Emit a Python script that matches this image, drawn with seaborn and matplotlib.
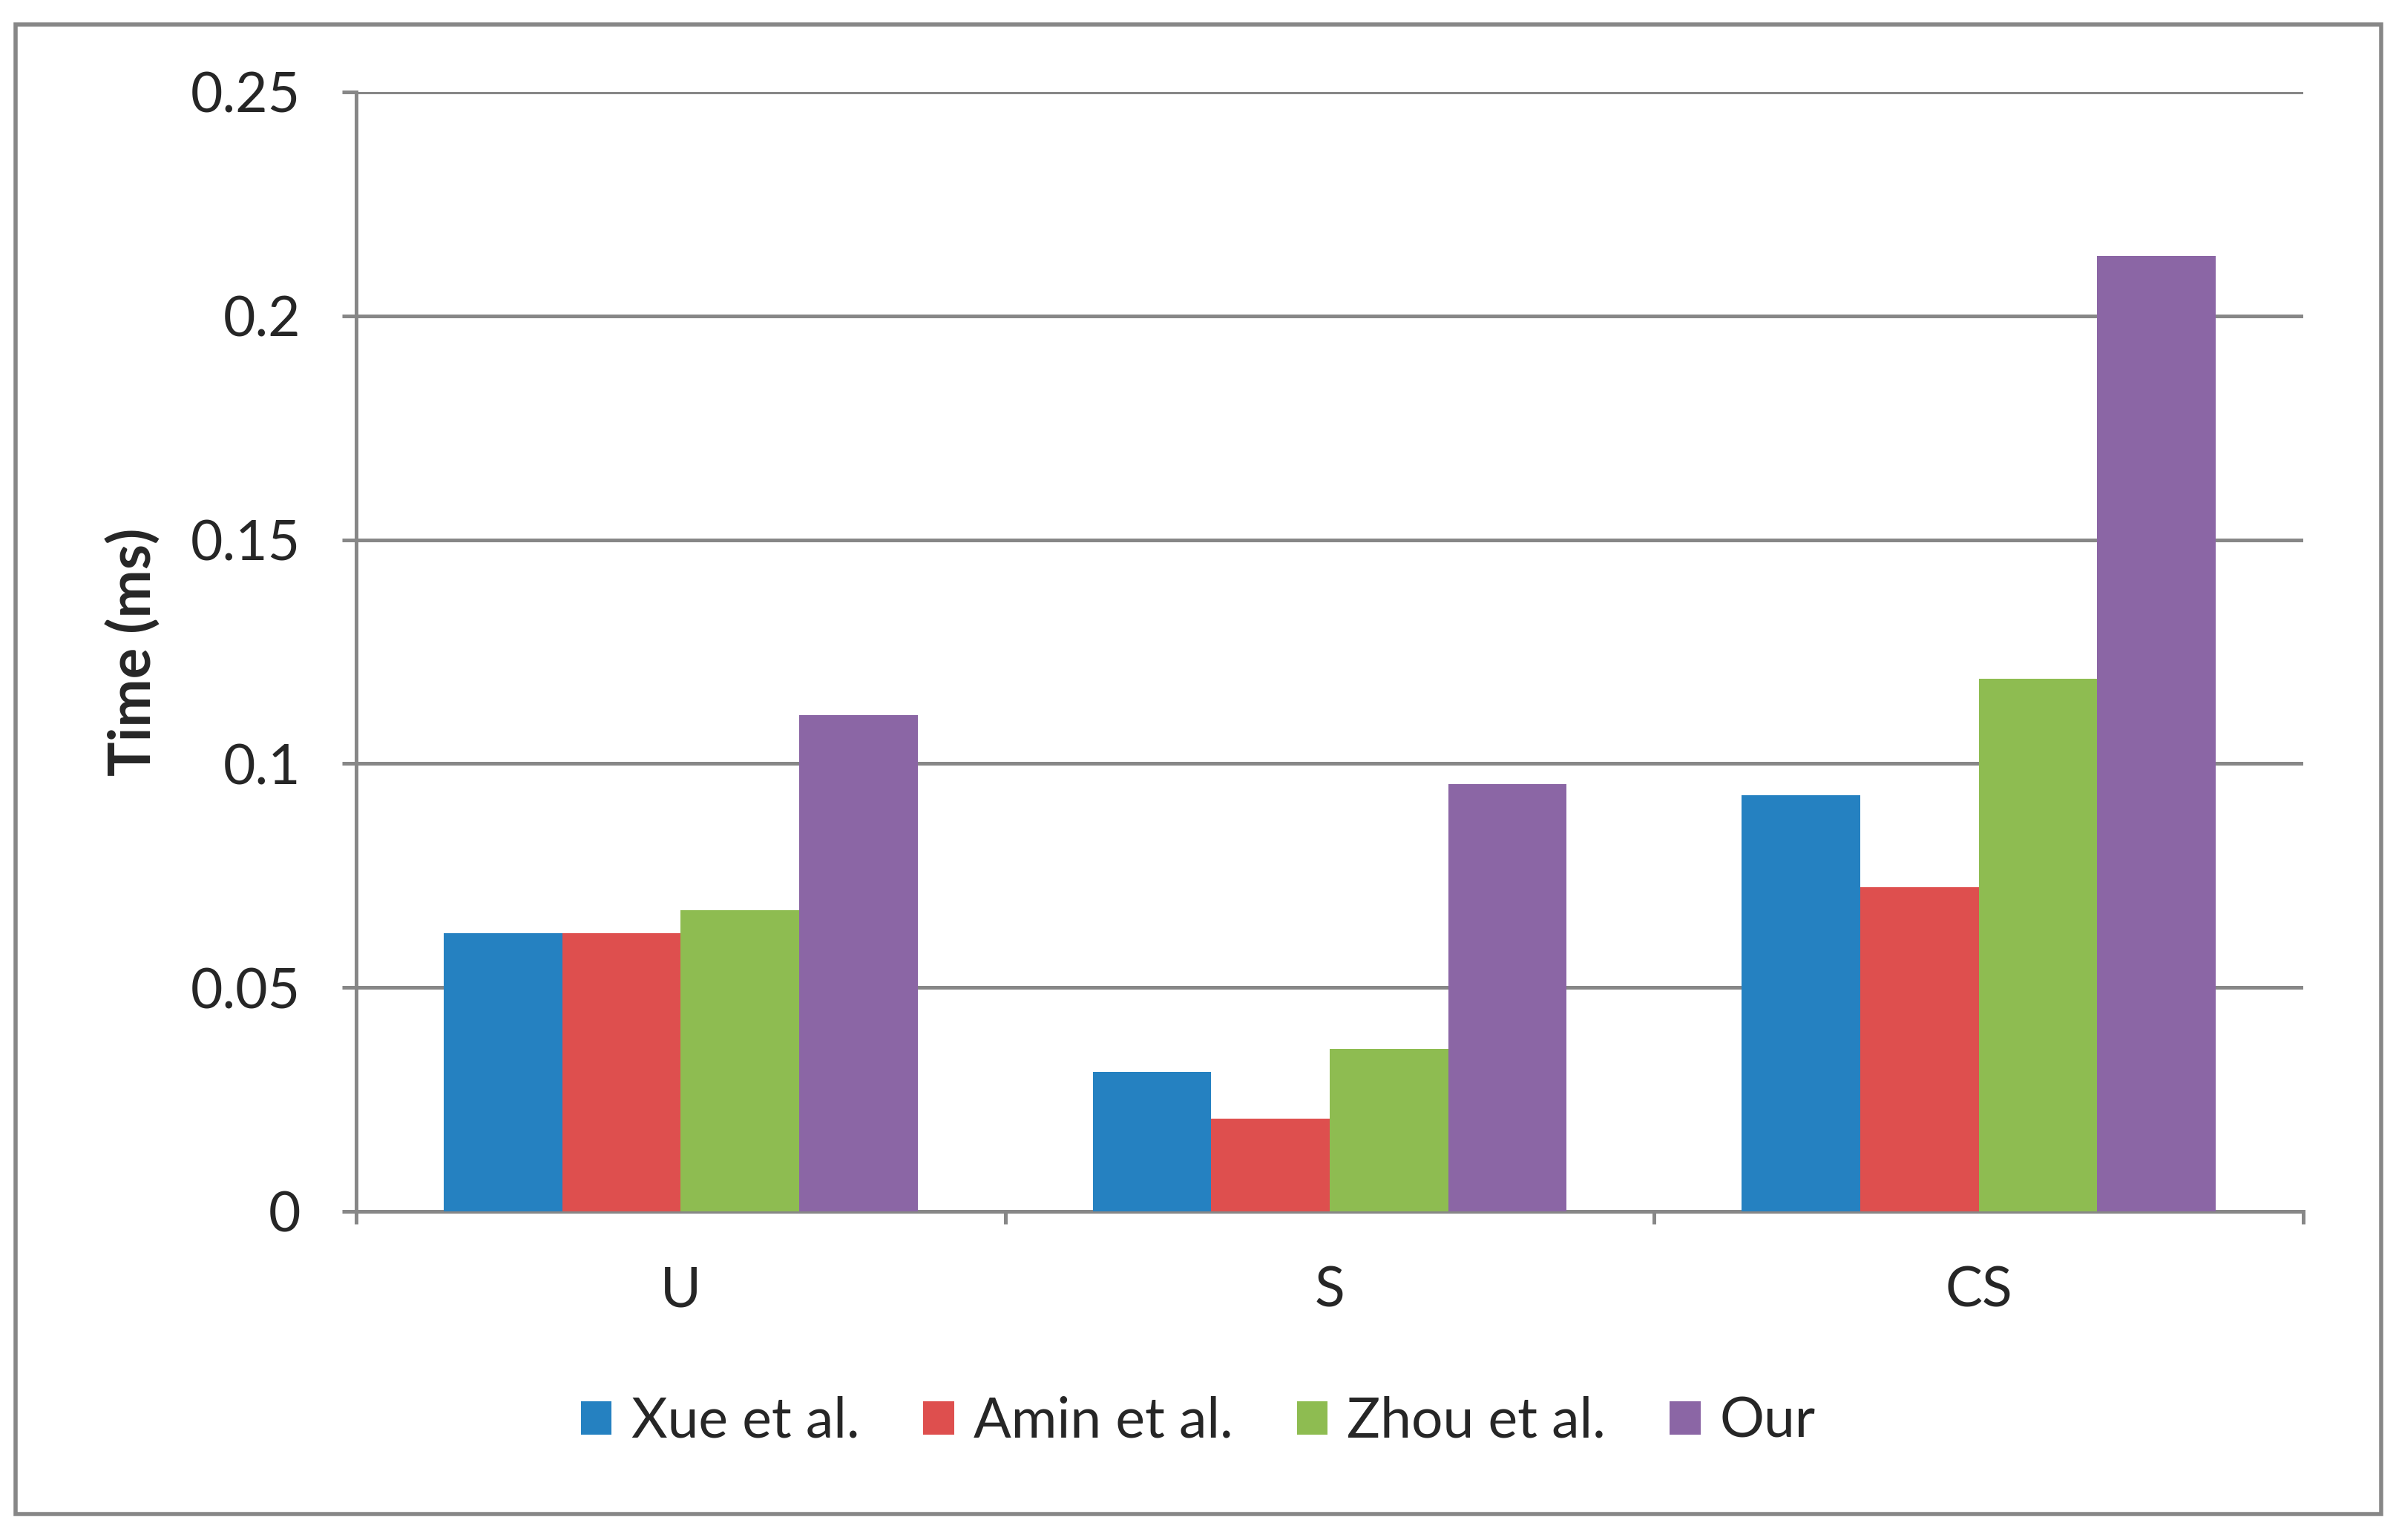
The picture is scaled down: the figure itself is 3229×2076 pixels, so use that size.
import pandas as pd
import matplotlib.pyplot as plt
import seaborn as sns
from matplotlib.patches import Rectangle

categories = ["U", "S", "CS"]
methods = ["Xue et al.", "Amin et al.", "Zhou et al.", "Our"]
xue = [0.0621, 0.0311, 0.0930]
amin = [0.0621, 0.0207, 0.0724]
zhou = [0.0672, 0.0363, 0.1189]
our = [0.1109, 0.0955, 0.2134]
colors = ["#2581C1", "#DE4F4E", "#8EBC51", "#8B66A5"]
y_ticks = [0, 0.05, 0.1, 0.15, 0.2, 0.25]
y_labels = ["0", "0.05", "0.1", "0.15", "0.2", "0.25"]

rows = []
for m, vals in zip(methods, [xue, amin, zhou, our]):
    for c, v in zip(categories, vals):
        rows.append({"Category": c, "Method": m, "Time": v})
df = pd.DataFrame(rows)

sns.set_style("white")
plt.rcParams["font.family"] = ["Lato", "DejaVu Sans"]
grey = "#878787"

fig = plt.figure(figsize=(16.15, 10.38), dpi=200)
ax = fig.add_axes([0.1486, 0.2134, 0.8124, 0.7269])

sns.barplot(data=df, x="Category", y="Time", hue="Method", palette=colors,
            saturation=1, width=0.73, gap=0, linewidth=0, ax=ax, zorder=3)

ax.set_ylim(0, 0.25)
ax.set_xlim(-0.5, 2.5)
ax.set_yticks(y_ticks)
ax.set_yticklabels(y_labels)
ax.yaxis.grid(True, color=grey, linewidth=1.8, zorder=0)
ax.set_axisbelow(True)

for side in ["top", "right"]:
    ax.spines[side].set_visible(False)
for side in ["left", "bottom"]:
    ax.spines[side].set_color(grey)
    ax.spines[side].set_linewidth(1.8)

ax.set_xticks([-0.5, 0.5, 1.5, 2.5], minor=True)
ax.tick_params(axis="x", which="major", length=0, pad=26, labelsize=27)
ax.tick_params(axis="x", which="minor", length=6, width=1.8, color=grey, direction="out")
ax.tick_params(axis="y", length=7, width=1.8, color=grey, direction="out", pad=20, labelsize=27)
ax.tick_params(bottom=True, left=True, which="both")

ax.set_xlabel("")
ax.set_ylabel("Time (ms)", fontsize=28, fontweight="bold", labelpad=14)

handles, labels = ax.get_legend_handles_labels()
ax.get_legend().remove()
fig.legend(handles, labels, loc="center", bbox_to_anchor=(0.5, 0.077), ncol=4,
           frameon=False, fontsize=27, handlelength=0.55, handleheight=0.55,
           handletextpad=0.35, columnspacing=1.15)

fig.patches.append(Rectangle((0.0065, 0.017), 0.987, 0.967, transform=fig.transFigure,
                             fill=False, edgecolor=grey, linewidth=2))

plt.savefig("out.png", dpi=200)
plt.close()
